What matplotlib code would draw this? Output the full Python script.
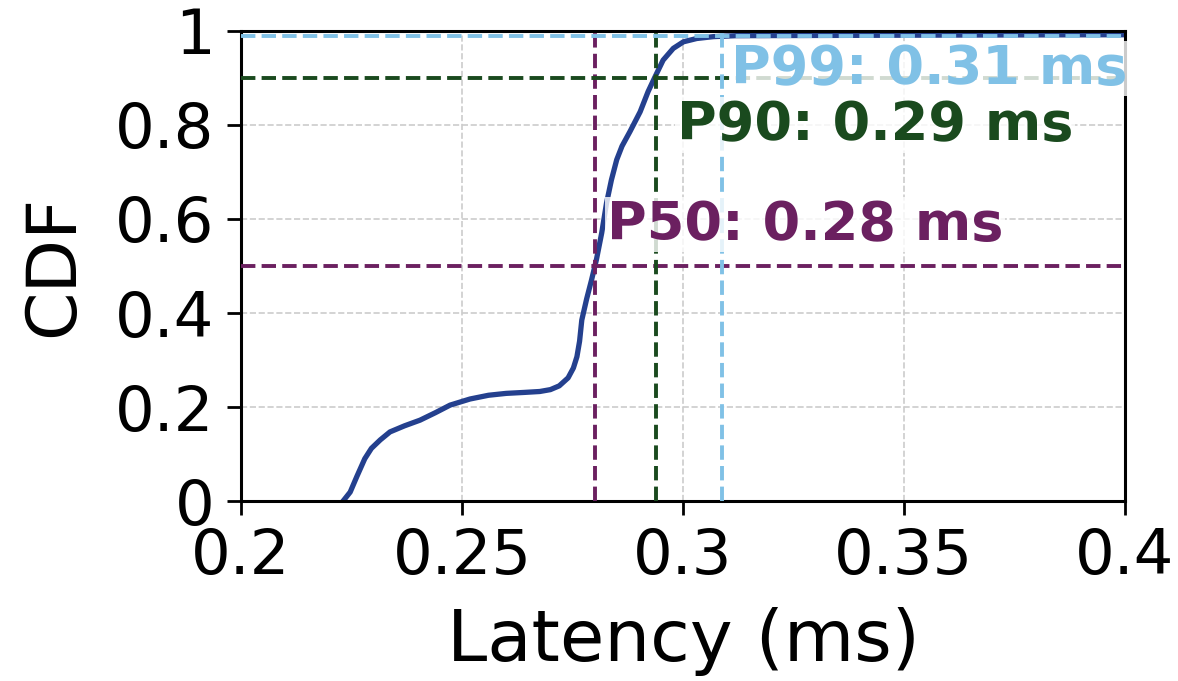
import matplotlib
matplotlib.use("Agg")
import matplotlib.pyplot as plt

# CDF curve (latency in ms, cumulative fraction)
latency = [0.2231, 0.2247, 0.2262, 0.2280, 0.2295, 0.2315, 0.2337, 0.2370,
           0.2405, 0.2440, 0.2473, 0.2518, 0.2560, 0.2600, 0.2640, 0.2676,
           0.2700, 0.2720, 0.2740, 0.2752, 0.2760, 0.2766, 0.2771, 0.2782,
           0.2793, 0.2804, 0.2816, 0.2827, 0.2838, 0.2850, 0.2862, 0.2880,
           0.2903, 0.2921, 0.2937, 0.2955, 0.2978, 0.3001, 0.3031, 0.3069,
           0.3120, 0.3500, 0.4000, 0.4500]
cdf = [0.000, 0.019, 0.052, 0.090, 0.112, 0.130, 0.147, 0.160,
       0.172, 0.188, 0.204, 0.217, 0.225, 0.229, 0.231, 0.233,
       0.237, 0.245, 0.262, 0.283, 0.307, 0.340, 0.385, 0.430,
       0.470, 0.513, 0.570, 0.634, 0.683, 0.726, 0.755, 0.786,
       0.828, 0.871, 0.903, 0.938, 0.963, 0.977, 0.984, 0.988,
       0.990, 0.991, 0.992, 0.993]

pct_names = ["P50", "P90", "P99"]
pct_levels = [0.5, 0.9, 0.99]
pct_values = [0.2801, 0.2939, 0.3088]
pct_colors = ["#6b2060", "#1a4a1e", "#80c1e6"]
label_pos = [(0.2828, 0.588), (0.2986, 0.80), (0.3108, 0.92)]

xticks = [0.2, 0.25, 0.3, 0.35, 0.4]
xtick_labels = ["0.2", "0.25", "0.3", "0.35", "0.4"]
yticks = [0, 0.2, 0.4, 0.6, 0.8, 1]
ytick_labels = ["0", "0.2", "0.4", "0.6", "0.8", "1"]

fig = plt.figure(figsize=(11.78, 6.81), dpi=100)
ax = fig.add_axes([0.2046, 0.2643, 0.7504, 0.6902])

ax.grid(True, linestyle="--", color="#cccccc", linewidth=1.2)
ax.set_axisbelow(True)

ax.plot(latency, cdf, color="#24408e", linewidth=3.8, zorder=2)

for name, lvl, val, col, pos in zip(pct_names, pct_levels, pct_values, pct_colors, label_pos):
    ax.axhline(lvl, color=col, linestyle="--", linewidth=2.8, zorder=3)
    ax.axvline(val, color=col, linestyle="--", linewidth=2.8, zorder=3)
    ax.text(pos[0], pos[1], f"{name}: {val:.2f} ms", color=col, fontsize=39,
            fontweight="bold", ha="left", va="center", zorder=4,
            bbox=dict(facecolor="white", alpha=0.8, edgecolor="none", pad=1))

ax.set_xlim(0.2, 0.4)
ax.set_ylim(0, 1)
ax.set_xticks(xticks)
ax.set_xticklabels(xtick_labels)
ax.set_yticks(yticks)
ax.set_yticklabels(ytick_labels)
ax.tick_params(labelsize=45, length=10, width=2, pad=9)
for s in ax.spines.values():
    s.set_linewidth(2.2)

ax.set_xlabel("Latency (ms)", fontsize=52, labelpad=14)
ax.set_ylabel("CDF", fontsize=50, labelpad=20)

fig.savefig("out.png", dpi=100)
